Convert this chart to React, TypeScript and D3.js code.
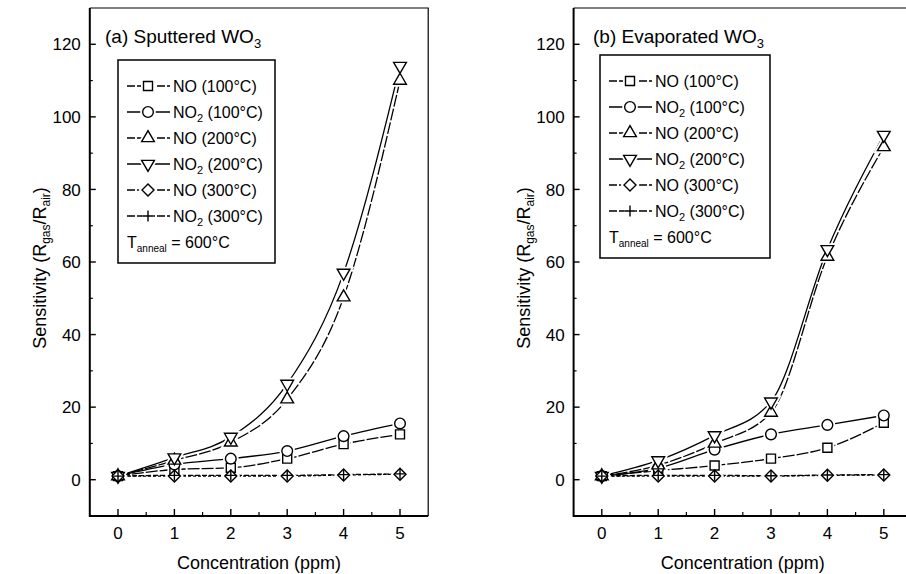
import React from 'react';
import * as d3 from 'd3';

// ==== values

const concentration = [0, 1, 2, 3, 4, 5];

// (a) sputtered WO3
const sputNO100 = [1, 2.8, 3.3, 5.8, 9.8, 12.5];
const sputNO2_100 = [1, 4.2, 5.8, 7.9, 12, 15.5];
const sputNO200 = [1, 5.3, 10.3, 22.2, 50.3, 110];
const sputNO2_200 = [1, 6.1, 11.8, 26.4, 57, 114];
const sputNO300 = [1, 1, 1, 1, 1.3, 1.5];
const sputNO2_300 = [1, 1.2, 1.2, 1.2, 1.4, 1.6];

// (b) evaporated WO3
const evapNO100 = [1, 2.5, 3.9, 5.8, 8.8, 15.7];
const evapNO2_100 = [1, 3.2, 8.3, 12.5, 15.1, 17.7];
const evapNO200 = [1, 4, 10, 18.5, 61.5, 91.7];
const evapNO2_200 = [1, 5.3, 12.2, 21.5, 63.5, 95];
const evapNO300 = [1, 1, 1, 1, 1.2, 1.3];
const evapNO2_300 = [1, 1.2, 1.2, 1.1, 1.3, 1.4];

const xTicks = [0, 1, 2, 3, 4, 5];
const xMinorTicks = [0.5, 1.5, 2.5, 3.5, 4.5];
const yTicks = [0, 20, 40, 60, 80, 100, 120];
const yMinorTicks = [10, 30, 50, 70, 90, 110];

const legendGas = ['NO', 'NO2', 'NO', 'NO2', 'NO', 'NO2'];
const legendTemp = ['100', '100', '200', '200', '300', '300'];

// ==== styles

const markers = ['square', 'circle', 'up', 'down', 'diamond', 'plus'];
const dashes = ['12,2', null, '12,2', null, '3,2', '5,2'];

const FONT = '"Liberation Sans", Arial, sans-serif';
const W = 906;
const H = 574;
const TOP = 8;
const BOTTOM = 516;
const PANEL_W = 338.4;

function markerPath(kind: string): string {
    if (kind === 'square') return d3.symbol(d3.symbolSquare, 81)() as string;
    if (kind === 'circle') return d3.symbol(d3.symbolCircle, 90)() as string;
    if (kind === 'up' || kind === 'down') return d3.symbol(d3.symbolTriangle, 70)() as string;
    if (kind === 'diamond') return d3.symbol(d3.symbolSquare, 72)() as string;
    return 'M-5.5,0H5.5M0,-5.5V5.5';
}

function markerRotation(kind: string): number {
    if (kind === 'down') return 180;
    if (kind === 'diamond') return 45;
    return 0;
}

const Marker = ({ kind, x, y, halo }: { kind: string; x: number; y: number; halo?: boolean }) => (
    <path
        d={markerPath(kind)}
        transform={`translate(${x},${y}) rotate(${markerRotation(kind)})`}
        fill={kind === 'plus' ? 'none' : '#fff'}
        stroke={halo ? '#fff' : '#000'}
        strokeWidth={halo ? 5 : 1.4}
    />
);

const GasLabel = ({ gas, x, y, text }: { gas: string; x: number; y: number; text: string }) => (
    <text x={x} y={y} fontSize={16} fontFamily={FONT}>
        {gas === 'NO2' ? (
            <>
                <tspan>NO</tspan>
                <tspan dy={4} fontSize={11}>2</tspan>
                <tspan dy={-4}>{text}</tspan>
            </>
        ) : (
            <tspan>{'NO' + text}</tspan>
        )}
    </text>
);

type PanelProps = {
    x0: number;
    label: string;
    titleX: number;
    legendBox: { x: number; y: number; w: number; h: number };
    series: number[][];
};

const Panel = ({ x0, label, titleX, legendBox, series }: PanelProps) => {
    const x = d3.scaleLinear().domain([-0.5, 5.5]).range([x0, x0 + PANEL_W]);
    const y = d3.scaleLinear().domain([-10, 130]).range([BOTTOM, TOP]);

    const line = d3.line<number>()
        .x((d, i) => x(concentration[i]))
        .y((d) => y(d))
        .curve(d3.curveMonotoneX);

    const rowY = (i: number) => legendBox.y + 26 + i * 26;

    return (
        <g>
            {/* frame: light top/right, heavy axes */}
            <path d={`M${x(-0.5)},${y(130)}H${x(5.5)}V${y(-10)}`} fill="none" stroke="#000" strokeWidth={1.2} />
            <path d={`M${x(-0.5)},${y(130)}V${y(-10)}H${x(5.5)}`} fill="none" stroke="#000" strokeWidth={2} />

            {/* y ticks */}
            {yTicks.map((t) => (
                <g key={'y' + t}>
                    <line x1={x(-0.5)} x2={x(-0.5) + 6} y1={y(t)} y2={y(t)} stroke="#000" strokeWidth={1.4} />
                    <text x={x(-0.5) - 9} y={y(t)} dy="0.36em" textAnchor="end" fontSize={17} fontFamily={FONT}>{t}</text>
                </g>
            ))}
            {yMinorTicks.map((t) => (
                <line key={'ym' + t} x1={x(-0.5)} x2={x(-0.5) + 3} y1={y(t)} y2={y(t)} stroke="#000" strokeWidth={1.2} />
            ))}

            {/* x ticks */}
            {xTicks.map((t) => (
                <g key={'x' + t}>
                    <line x1={x(t)} x2={x(t)} y1={y(-10)} y2={y(-10) - 7} stroke="#000" strokeWidth={1.4} />
                    <text x={x(t)} y={539} textAnchor="middle" fontSize={17} fontFamily={FONT}>{t}</text>
                </g>
            ))}
            {xMinorTicks.map((t) => (
                <line key={'xm' + t} x1={x(t)} x2={x(t)} y1={y(-10)} y2={y(-10) - 4} stroke="#000" strokeWidth={1.2} />
            ))}

            {/* axis titles */}
            <text x={x(2.5)} y={569} textAnchor="middle" fontSize={18} fontFamily={FONT}>Concentration (ppm)</text>
            <text transform={`translate(${x0 - 44},${268}) rotate(-90)`} textAnchor="middle" fontSize={18} fontFamily={FONT}>
                <tspan>Sensitivity (R</tspan>
                <tspan dy={4} fontSize={12}>gas</tspan>
                <tspan dy={-4}>/R</tspan>
                <tspan dy={4} fontSize={12}>air</tspan>
                <tspan dy={-4}>)</tspan>
            </text>

            {/* panel title */}
            <text x={titleX} y={43} fontSize={19} fontFamily={FONT}>
                <tspan>{label}</tspan>
                <tspan dy={5} fontSize={13}>3</tspan>
            </text>

            {/* curves */}
            {series.map((s, i) => (
                <path key={'l' + i} d={line(s) as string} fill="none" stroke="#000" strokeWidth={1.3}
                    strokeDasharray={dashes[i] ?? undefined} />
            ))}
            {series.map((s, i) => s.map((v, j) => (
                <Marker key={'h' + i + '-' + j} kind={markers[i]} x={x(concentration[j])} y={y(v)} halo />
            )))}
            {series.map((s, i) => s.map((v, j) => (
                <Marker key={'m' + i + '-' + j} kind={markers[i]} x={x(concentration[j])} y={y(v)} />
            )))}

            {/* legend */}
            <rect x={legendBox.x} y={legendBox.y} width={legendBox.w} height={legendBox.h}
                fill="#fff" stroke="#000" strokeWidth={1.5} />
            {legendGas.map((gas, i) => (
                <g key={'lg' + i}>
                    <line x1={legendBox.x + 9} x2={legendBox.x + 52} y1={rowY(i)} y2={rowY(i)}
                        stroke="#000" strokeWidth={1.3} strokeDasharray={dashes[i] ? '8,2' : undefined} />
                    <Marker kind={markers[i]} x={legendBox.x + 30} y={rowY(i)} halo />
                    <Marker kind={markers[i]} x={legendBox.x + 30} y={rowY(i)} />
                    <GasLabel gas={gas} x={legendBox.x + 55} y={rowY(i) + 6} text={` (${legendTemp[i]}°C)`} />
                </g>
            ))}
            <text x={legendBox.x + 9} y={rowY(6) + 6} fontSize={16} fontFamily={FONT}>
                <tspan>T</tspan>
                <tspan dy={4} fontSize={10}>anneal</tspan>
                <tspan dy={-4}> = 600°C</tspan>
            </text>
        </g>
    );
};

export default function App() {
    return (
        <svg width={W} height={H} style={{ position: 'absolute', left: 0, top: 0, background: '#fff' }}>
            <rect width={W} height={H} fill="#fff" />
            <Panel
                x0={89.8}
                label="(a) Sputtered WO"
                titleX={105}
                legendBox={{ x: 118, y: 60, w: 157, h: 203 }}
                series={[sputNO100, sputNO2_100, sputNO200, sputNO2_200, sputNO300, sputNO2_300]}
            />
            <Panel
                x0={573.6}
                label="(b) Evaporated WO"
                titleX={593}
                legendBox={{ x: 600, y: 55, w: 170, h: 203 }}
                series={[evapNO100, evapNO2_100, evapNO200, evapNO2_200, evapNO300, evapNO2_300]}
            />
        </svg>
    );
}
